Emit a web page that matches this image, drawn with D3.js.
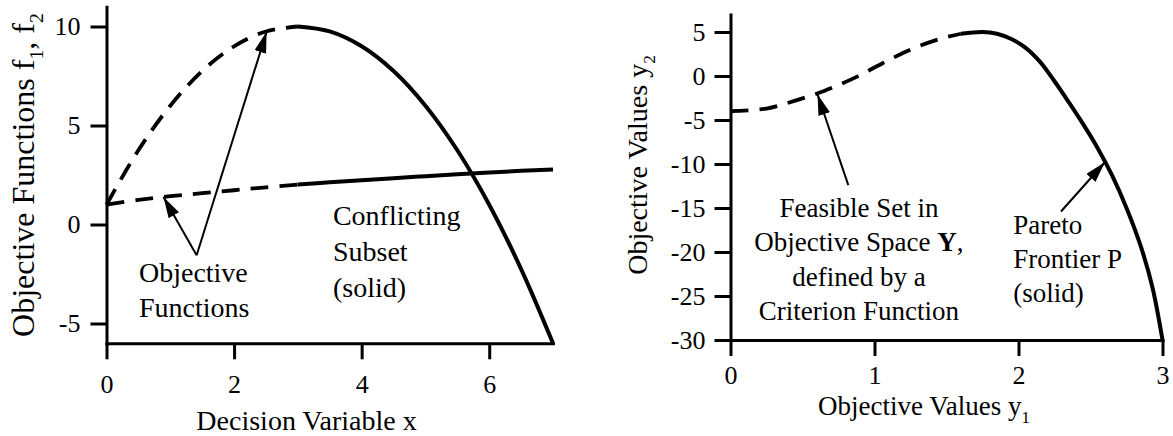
<!DOCTYPE html>
<html>
<head>
<meta charset="utf-8">
<script src="https://cdn.jsdelivr.net/npm/d3@7"></script>
<style>
body{margin:0;background:#fff}
text{font-family:"Liberation Serif","Times New Roman",serif;fill:#000}
</style>
</head>
<body>
<svg id="chart" width="1173" height="436"></svg>
<script>
// left panel: decision space
var xDecision=[0,0.5,1,1.5,2,2.5,3,3.5,4,4.5,5,5.5,6,6.5,7];
var f1Values=[1,3.75,6,7.75,9,9.75,10,9.75,9,7.75,6,3.75,1,-2.25,-6];
var f2Values=[1,1.24,1.43,1.58,1.73,1.88,2.02,2.13,2.23,2.34,2.44,2.54,2.63,2.71,2.78];
var conflictStart=3;
var xMajorLeft=[0,2,4,6], xMinorLeft=[1,3,5,7];
var yMajorLeft=[-5,0,5,10], yMinorLeft=[-2.5,2.5,7.5];

// right panel: objective space
var y1Values=[0,0.25,0.45,0.65,0.85,1.05,1.25,1.45,1.6,1.75,1.85,1.95,2.05,2.15,2.25,2.35,2.45,2.55,2.65,2.75,2.85,2.93,3];
var y2Values=[-4,-3.7,-2.8,-1.7,-0.3,1.4,3,4.2,4.8,5,4.8,4.2,3.2,1.6,-0.6,-3,-5.5,-8.2,-11.3,-15,-19.4,-24,-30];
var paretoStart=1.6;
var xMajorRight=[0,1,2,3], xMinorRight=[0.5,1.5,2.5];
var yMajorRight=[-30,-25,-20,-15,-10,-5,0,5], yMinorRight=[-27.5,-22.5,-17.5,-12.5,-7.5,-2.5,2.5];

// annotation arrows [from x, from y, to x, to y] in data units
var leftArrows=[[1.413,-1.55,2.51,9.73],[1.413,-1.55,0.893,1.39]];
var rightArrows=[[0.818,-12.4,0.604,-2.07],[2.295,-15.4,2.6,-9.8]];

var svg=d3.select('#chart');
var font='"Liberation Serif","Times New Roman",serif';

var xL=d3.scaleLinear().domain([0,7]).range([106.5,553]);
var yL=d3.scaleLinear().domain([-6,11]).range([343.3,6.7]);
var xR=d3.scaleLinear().domain([0,3]).range([730.5,1162.5]);
var yR=d3.scaleLinear().domain([-30,7]).range([340,14.4]);

svg.append('defs').append('marker')
	.attr('id','head')
	.attr('markerUnits','userSpaceOnUse')
	.attr('markerWidth',22).attr('markerHeight',12)
	.attr('refX',21).attr('refY',6)
	.attr('orient','auto')
	.append('path').attr('d','M0,0L21,6L0,12Z').attr('fill','#000');

function drawAxes(x,y,xMajor,xMinor,yMajor,yMinor,xPad,yPad)
{
	var gx=svg.append('g').attr('transform','translate(0,'+y.range()[0]+')');
	gx.call(d3.axisBottom(x).tickValues(xMinor).tickSize(8).tickFormat(''));
	gx.call(d3.axisBottom(x).tickValues(xMajor).tickSize(16).tickSizeOuter(0)
		.tickPadding(xPad).tickFormat(function(d){return String(d);}));

	var gy=svg.append('g').attr('transform','translate('+x.range()[0]+',0)');
	gy.call(d3.axisLeft(y).tickValues(yMinor).tickSize(8).tickFormat(''));
	gy.call(d3.axisLeft(y).tickValues(yMajor).tickSize(16).tickSizeOuter(0)
		.tickPadding(yPad).tickFormat(function(d){return String(d);}));

	[gx,gy].forEach(function(g){
		g.attr('font-family',font).attr('font-size',26);
		g.selectAll('.domain').attr('stroke-width',3).attr('stroke-linecap','square');
		g.selectAll('line').attr('stroke-width',3);
		g.selectAll('text').attr('fill','#000');
	});
}

drawAxes(xL,yL,xMajorLeft,xMinorLeft,yMajorLeft,yMinorLeft,15,10);
drawAxes(xR,yR,xMajorRight,xMinorRight,yMajorRight,yMinorRight,10,9);

function drawCurve(x,y,xs,ys,split)
{
	var pts=xs.map(function(v,i){return [v,ys[i]];});
	var line=d3.line()
		.x(function(d){return x(d[0]);})
		.y(function(d){return y(d[1]);})
		.curve(d3.curveCatmullRom.alpha(0.5));

	svg.append('path')
		.attr('d',line(pts.filter(function(d){return d[0]<=split;})))
		.attr('fill','none').attr('stroke','#000')
		.attr('stroke-width',3.8).attr('stroke-dasharray','18,11');

	svg.append('path')
		.attr('d',line(pts.filter(function(d){return d[0]>=split;})))
		.attr('fill','none').attr('stroke','#000')
		.attr('stroke-width',4);
}

drawCurve(xL,yL,xDecision,f1Values,conflictStart);
drawCurve(xL,yL,xDecision,f2Values,conflictStart);
drawCurve(xR,yR,y1Values,y2Values,paretoStart);

function drawArrows(x,y,arrows)
{
	svg.selectAll(null).data(arrows).enter().append('line')
		.attr('x1',function(d){return x(d[0]);})
		.attr('y1',function(d){return y(d[1]);})
		.attr('x2',function(d){return x(d[2]);})
		.attr('y2',function(d){return y(d[3]);})
		.attr('stroke','#000').attr('stroke-width',2)
		.attr('marker-end','url(#head)');
}

drawArrows(xL,yL,leftArrows);
drawArrows(xR,yR,rightArrows);

// text block: lines of [text, bold] pieces
function note(px,py,lines,anchor,size,gap)
{
	var t=svg.append('text').attr('x',px).attr('y',py)
		.attr('text-anchor',anchor).attr('font-size',size);
	lines.forEach(function(parts,i){
		parts.forEach(function(p,j){
			var s=t.append('tspan').text(p[0]);
			if(j==0) s.attr('x',px).attr('dy',i==0?0:gap);
			if(p[1]) s.attr('font-weight','bold');
		});
	});
}

note(xL(0.509),yL(-2.9),[[['Objective']],[['Functions']]],'start',28,35);
note(xL(3.55),yL(0),[[['Conflicting']],[['Subset']],[['(solid)']]],'start',28,36);
note(xR(0.892),yR(-16),[[['Feasible Set in']],[['Objective Space '],['Y',true],[',']],[['defined by a']],[['Criterion Function']]],'middle',27,34.5);
note(xR(1.964),yR(-17.9),[[['Pareto']],[['Frontier P']],[['(solid)']]],'start',27,34);

// axis titles with subscripts
function title(px,py,rot,size,parts)
{
	var t=svg.append('text')
		.attr('transform','translate('+px+','+py+') rotate('+rot+')')
		.attr('text-anchor','middle').attr('font-size',size);
	parts.forEach(function(p){
		var s=t.append('tspan').text(p[0]);
		if(p[1]==1) s.attr('font-size',size*0.62).attr('dy',size*0.28);
		if(p[1]==-1) s.attr('dy',-size*0.28);
	});
}

title(306.5,430,0,28,[['Decision Variable x']]);
title(34,175,-90,32,[['Objective Functions f'],['1',1],[', f',-1],['2',1]]);
title(924,415,0,27,[['Objective Values y'],['1',1]]);
title(647,165,-90,28,[['Objective Values y'],['2',1]]);
</script>
</body>
</html>
